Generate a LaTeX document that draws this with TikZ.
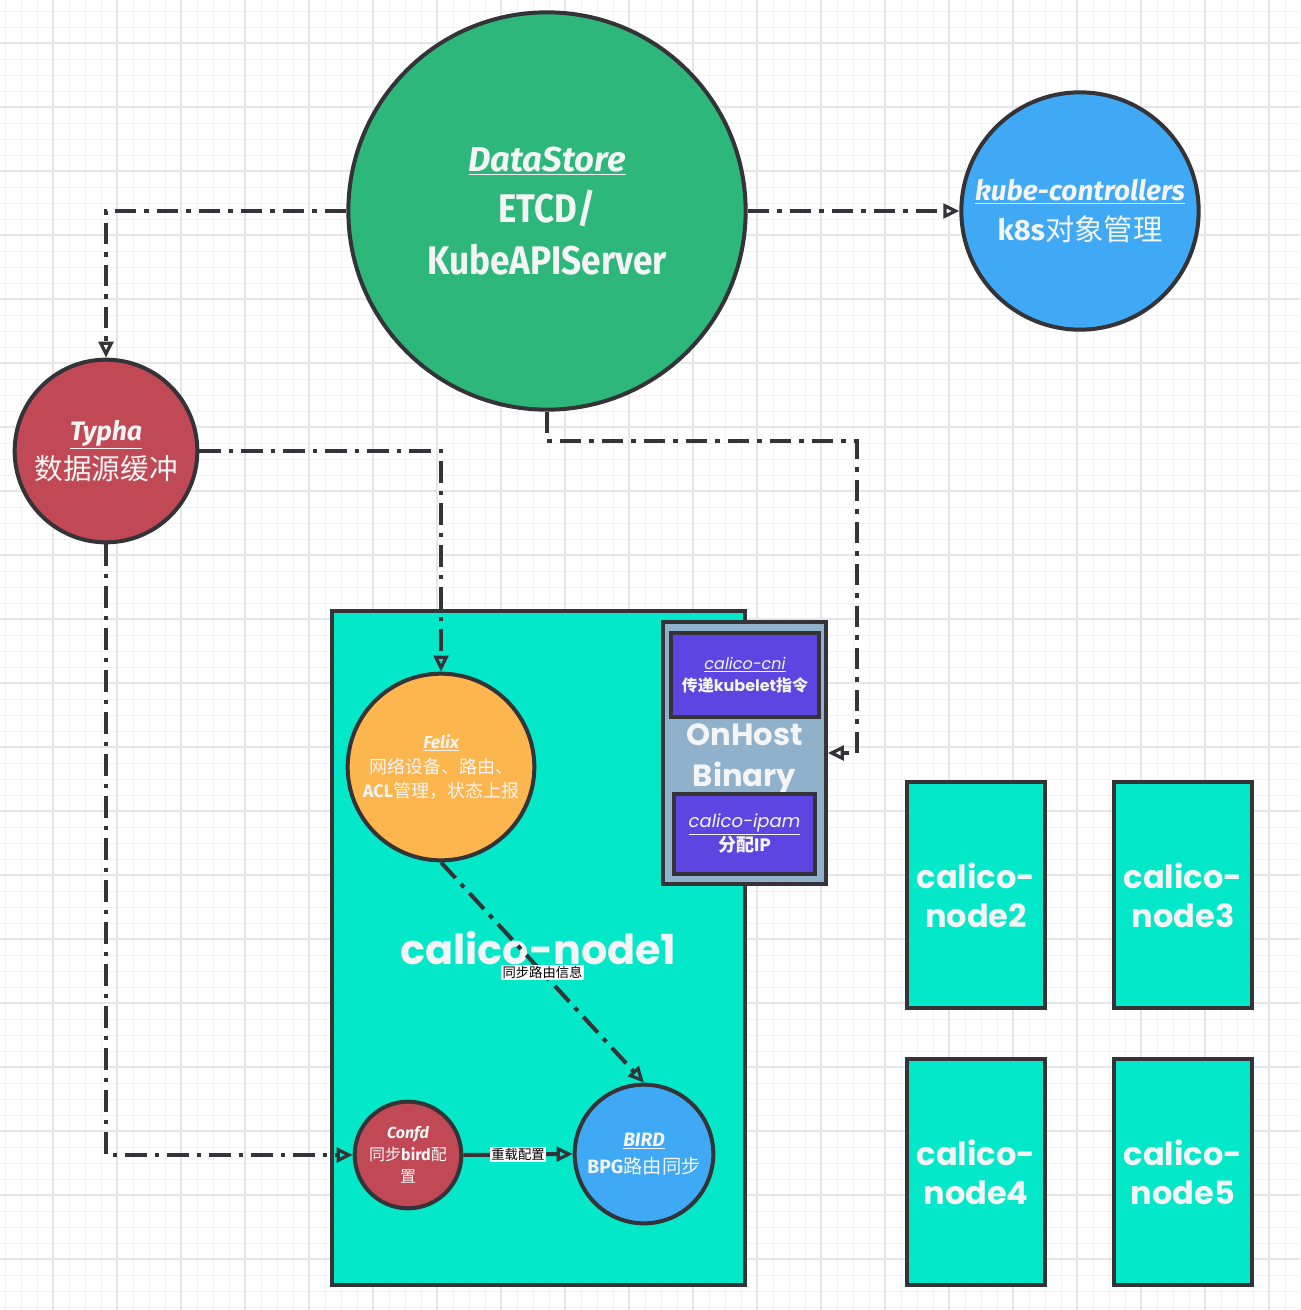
\documentclass[tikz,border=0pt]{standalone}
\usepackage{fontspec}
\setmainfont{Fira Sans}
\newfontfamily\cjk{Noto Sans CJK SC}
\newfontfamily\comic{Poppins}
\usetikzlibrary{arrows.meta}
\definecolor{edgec}{HTML}{333338}
\definecolor{txt}{HTML}{F4F4F4}
\definecolor{dsgreen}{HTML}{2DB77B}
\definecolor{kblue}{HTML}{3FA9F5}
\definecolor{tred}{HTML}{C04955}
\definecolor{forange}{HTML}{FDB64E}
\definecolor{teal}{HTML}{02E8C9}
\definecolor{hostgray}{HTML}{8FB1CB}
\definecolor{purp}{HTML}{5D45E2}
\definecolor{gminor}{HTML}{F2F2F2}
\definecolor{gmajor}{HTML}{E6E6E6}
\newcommand{\fs}[2]{\fontsize{#1}{#2}\selectfont}
\begin{document}
\begin{tikzpicture}[x=0.75pt,y=-0.75pt,
  shapebox/.style={draw=edgec, line width=3pt, text=txt, align=center, inner sep=0pt},
  circ/.style={shapebox, circle},
  rbox/.style={shapebox, rectangle},
  flow/.style={draw=edgec, line width=3pt, dash pattern=on 16pt off 6pt on 3.5pt off 6pt,
     -{Triangle[open,length=12pt,width=11pt,line width=2.4pt]}},
  solidflow/.style={draw=edgec, line width=3pt, -{Triangle[open,length=12pt,width=11pt,line width=2.4pt]}},
  lbl/.style={fill=white, text=black, inner sep=1.2pt, font=\cjk\fs{10}{12}}]
\useasboundingbox (0,0) rectangle (1300,1310);
\fill[white] (0,0) rectangle (1300,1310);
% grid
\foreach \i in {0,...,81} \draw[gminor, line width=0.75pt] ({5+16*\i},0) -- ({5+16*\i},1310);
\foreach \i in {0,...,81} \draw[gminor, line width=0.75pt] (0,{11+16*\i}) -- (1300,{11+16*\i});
\foreach \i in {0,...,20} \draw[gmajor, line width=1pt] ({53+64*\i},0) -- ({53+64*\i},1310);
\foreach \i in {0,...,20} \draw[gmajor, line width=1pt] (0,{43+64*\i}) -- (1300,{43+64*\i});

% calico-node1 container
\node[rbox, fill=teal, minimum width=310pt, minimum height=505.5pt, font=\comic\bfseries\fs{31}{36}] (cn1) at (538.5,948)
  {calico-node1};
% OnHost binary
\node[rbox, fill=hostgray, minimum width=122pt, minimum height=196pt,
  label={[font=\comic\bfseries\fs{23}{31}, text=txt, align=center, yshift=-4.5pt]center:OnHost\\Binary}] (onhost) at (744.5,753) {};
\node[rbox, fill=purp, minimum width=111pt, minimum height=63pt, font=\comic\fs{12}{16.5}] (cni) at (745,675)
  {\underline{\itshape calico-cni}\\ {\cjk\bfseries 传递}{\bfseries kubelet}{\cjk\bfseries 指令}};
\node[rbox, fill=purp, minimum width=106pt, minimum height=60pt, font=\comic\fs{13.5}{18}] (ipam) at (744.5,834)
  {\underline{\itshape calico-ipam}\\ {\cjk\bfseries 分配}{\bfseries IP}};

% other calico nodes
\tikzset{cnode/.style={rbox, fill=teal, minimum width=103.5pt, minimum height=169.5pt, font=\comic\bfseries\fs{24}{29.5}}}
\node[cnode] (cn2) at (976,895) {calico-\\node2};
\node[cnode] (cn3) at (1183,895) {calico-\\node3};
\node[cnode] (cn4) at (976,1172) {calico-\\node4};
\node[cnode] (cn5) at (1183,1172) {calico-\\node5};

% circles
\node[circ, fill=dsgreen, minimum size=298pt, font=\bfseries\fs{30}{38.5}] (ds) at (547,211)
  {{\fs{26}{38.5}\underline{\itshape DataStore}}\\
   \scalebox{0.87}[1]{ETCD/}\\
   \scalebox{0.88}[1]{KubeAPIServer}};
\node[circ, fill=kblue, minimum size=178pt, font=\fs{22}{30}] (kc) at (1080,211)
  {{\fs{21}{30}\underline{\bfseries\itshape kube-controllers}}\\
   {\bfseries k8s}{\cjk 对象管理}};
\node[circ, fill=tred, minimum size=137pt, font=\fs{21.5}{29.5}] (typha) at (106,451)
  {{\fs{20}{29.5}\underline{\bfseries\itshape Typha}}\\
   {\cjk 数据源缓冲}};
\node[circ, fill=forange, minimum size=140pt, font=\fs{13.5}{18.5}] (felix) at (441,767)
  {{\fs{13}{18.5}\underline{\bfseries\itshape Felix}}\\
   {\cjk 网络设备、路由、}\\
   {\bfseries ACL}{\cjk 管理，状态上报}};
\node[circ, fill=tred, minimum size=80pt, font=\fs{12}{16.5}] (confd) at (408,1155)
  {{\bfseries\itshape Confd}\\
   {\cjk 同步}{\bfseries bird}{\cjk 配}\\
   {\cjk 置}};
\node[circ, fill=kblue, minimum size=104pt, font=\fs{14.5}{20.5}] (bird) at (644,1154)
  {\underline{\bfseries\itshape BIRD}\\
   {\bfseries BPG}{\cjk 路由同步}};

% connectors
\coordinate (c1) at (857,441);
\draw[flow] (ds.west) -| (typha.north);
\draw[flow] (ds.east) -- (kc.west);
\draw[flow] (ds.south) |- (c1) |- (onhost.east);
\draw[flow] (typha.east) -| (felix.north);
\draw[flow] (typha.south) |- (confd.west);
\draw[flow] (felix.south) -- node[lbl] {同步路由信息} (bird.north);
\draw[solidflow] (confd.east) -- node[lbl] {重载配置} (bird.west);
\end{tikzpicture}
\end{document}
